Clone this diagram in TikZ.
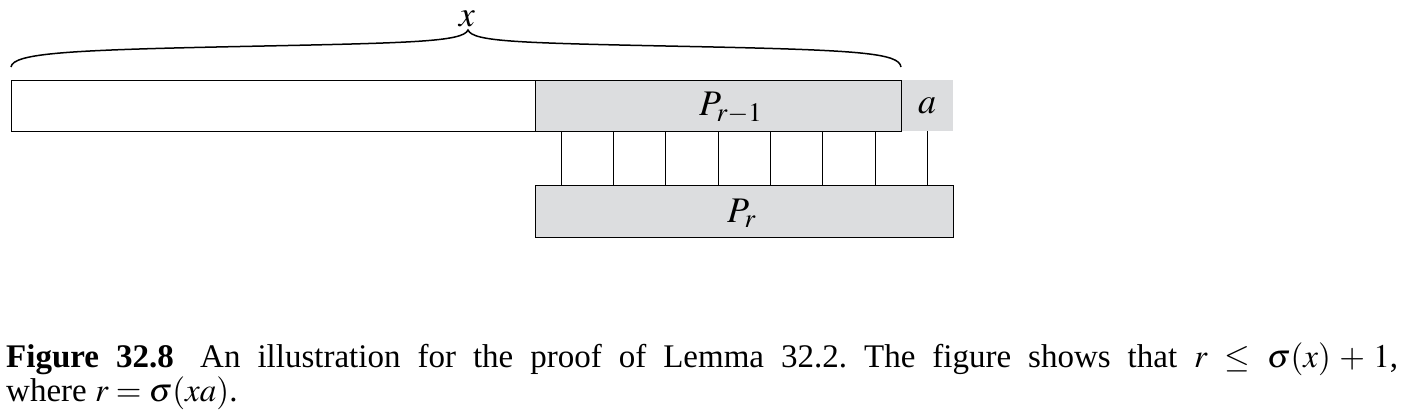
\documentclass[tikz,border=0pt]{standalone}
\usepackage{mathptmx}
\usepackage[no-math]{fontspec}
\setmainfont{Liberation Serif}
\frenchspacing
\definecolor{boxgray}{RGB}{220,221,223}
\tikzset{
  x=1pt, y=-1pt,
  cell/.style={rectangle, inner sep=0pt, anchor=north west, draw=black, line width=1.2pt},
  grayfill/.style={fill=boxgray},
  tie/.style={line width=1pt},
  bracepath/.style={line width=1.5pt},
  lbl/.style={font=\fontsize{36}{36}\selectfont}
}
\begin{document}
\begin{tikzpicture}
\useasboundingbox (0,0) rectangle (1410,418);
% gray 'a' cell (no border)
\node[rectangle, inner sep=0pt, anchor=north west, grayfill, minimum width=52pt, minimum height=51pt] (A) at (901,80) {};
\node[lbl] (alab) at (A.center) {$a$};
% white box
\node[cell, minimum width=524pt, minimum height=51pt] (W) at (11,80) {};
% P_{r-1}
\node[cell, grayfill, minimum width=366pt, minimum height=51pt] (P1) at (535,80) {};
\node[lbl] (p1lab) at ([xshift=12pt,yshift=-2pt]P1.center) {$P_{r-1}$};
% P_r
\node[cell, grayfill, minimum width=418pt, minimum height=52pt] (P2) at (535,185) {};
\node[lbl] (p2lab) at ([xshift=-3pt,yshift=-2pt]P2.center) {$P_r$};
% ties
\foreach \i/\xx in {1/561,2/613,3/665,4/718,5/770,6/822,7/875,8/927}{
  \coordinate (t\i) at (\xx,131);
  \draw[tie] (t\i) -- (t\i |- P2.north);
}
% brace
\coordinate (bl) at (11,67);
\coordinate (btip) at (468,30);
\coordinate (br) at (901,67);
\draw[bracepath] (bl) .. controls (13,53) and (70,50) .. (240,46.5)
  .. controls (410,43) and (463,42) .. (btip)
  .. controls (473,42) and (520,43) .. (690,46.5)
  .. controls (860,50) and (899,53) .. (br);
\node[lbl, anchor=base, inner sep=0pt] (xlab) at (467,26) {$x$};
% caption
\node[anchor=north west, inner sep=0pt, text width=1392pt, align=justify,
      font=\fontsize{33}{30.5}\selectfont] (cap) at (6,343)
  {\textbf{Figure 32.8}\hspace{0.8em}An illustration for the proof of Lemma 32.2. The figure shows that $r \,\le\, \sigma(x) + 1$,\linebreak where $r = \sigma(xa)$.};
\end{tikzpicture}
\end{document}
